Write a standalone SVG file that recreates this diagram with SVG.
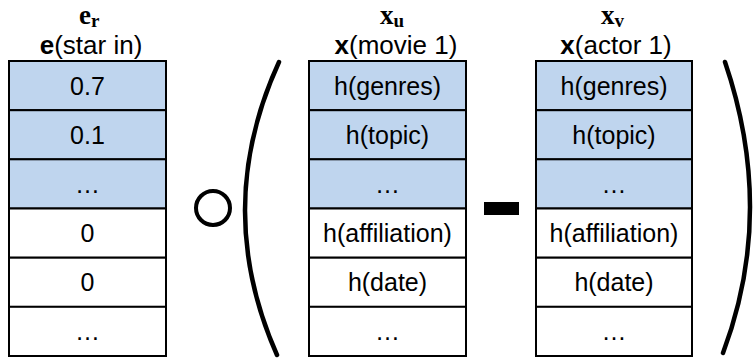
<svg xmlns="http://www.w3.org/2000/svg" width="754" height="364" viewBox="0 0 754 364">
<style>
.cell{stroke:#000;stroke-width:2}
.b{fill:#bfd5ee}
.w{fill:#fff}
.t{font-family:"Liberation Sans",Arial,sans-serif;font-size:25px;fill:#000;text-anchor:middle}
.h{font-family:"Liberation Sans",Arial,sans-serif;font-size:26px;fill:#000;text-anchor:middle}
.m{font-family:"Liberation Serif","Times New Roman",serif;font-weight:bold;font-size:27px;fill:#000}
.s{font-size:19px}
.op{fill:none;stroke:#000;stroke-width:4.5;stroke-linecap:round}
</style>
<rect width="754" height="364" fill="#fff"/>
<g id="er">
<text class="m" x="79" y="24">e<tspan class="s" dy="3">r</tspan></text>
<text class="h" x="91" y="54"><tspan font-weight="bold">e</tspan>(star in)</text>
<rect class="cell b" x="9" y="61" width="157" height="49.2"/>
<rect class="cell b" x="9" y="110.2" width="157" height="49.2"/>
<rect class="cell b" x="9" y="159.3" width="157" height="49.2"/>
<rect class="cell w" x="9" y="208.5" width="157" height="49.2"/>
<rect class="cell w" x="9" y="257.7" width="157" height="49.2"/>
<rect class="cell w" x="9" y="306.8" width="157" height="49.2"/>
<text class="t" x="87.5" y="94.5">0.7</text>
<text class="t" x="87.5" y="143.7">0.1</text>
<text class="t" x="87.5" y="192.9">…</text>
<text class="t" x="87.5" y="242">0</text>
<text class="t" x="87.5" y="291.2">0</text>
<text class="t" x="87.5" y="340.4">…</text>
</g>
<g id="xu">
<text class="m" x="380" y="24">x<tspan class="s" dy="3">u</tspan></text>
<text class="h" x="396" y="54"><tspan font-weight="bold">x</tspan>(movie 1)</text>
<rect class="cell b" x="309" y="61" width="157" height="49.2"/>
<rect class="cell b" x="309" y="110.2" width="157" height="49.2"/>
<rect class="cell b" x="309" y="159.3" width="157" height="49.2"/>
<rect class="cell w" x="309" y="208.5" width="157" height="49.2"/>
<rect class="cell w" x="309" y="257.7" width="157" height="49.2"/>
<rect class="cell w" x="309" y="306.8" width="157" height="49.2"/>
<text class="t" x="387.5" y="94.5">h(genres)</text>
<text class="t" x="387.5" y="143.7">h(topic)</text>
<text class="t" x="387.5" y="192.9">…</text>
<text class="t" x="387.5" y="242">h(affiliation)</text>
<text class="t" x="387.5" y="291.2">h(date)</text>
<text class="t" x="387.5" y="340.4">…</text>
</g>
<g id="xv">
<text class="m" x="601" y="24">x<tspan class="s" dy="3">v</tspan></text>
<text class="h" x="616" y="54"><tspan font-weight="bold">x</tspan>(actor 1)</text>
<rect class="cell b" x="536" y="61" width="156" height="49.2"/>
<rect class="cell b" x="536" y="110.2" width="156" height="49.2"/>
<rect class="cell b" x="536" y="159.3" width="156" height="49.2"/>
<rect class="cell w" x="536" y="208.5" width="156" height="49.2"/>
<rect class="cell w" x="536" y="257.7" width="156" height="49.2"/>
<rect class="cell w" x="536" y="306.8" width="156" height="49.2"/>
<text class="t" x="614" y="94.5">h(genres)</text>
<text class="t" x="614" y="143.7">h(topic)</text>
<text class="t" x="614" y="192.9">…</text>
<text class="t" x="614" y="242">h(affiliation)</text>
<text class="t" x="614" y="291.2">h(date)</text>
<text class="t" x="614" y="340.4">…</text>
</g>
<g id="operators">
<circle cx="213" cy="208" r="17" fill="none" stroke="#000" stroke-width="4"/>
<path class="op" d="M279 62 Q212 208 277 355"/>
<rect x="484" y="202" width="35" height="13" fill="#000"/>
<path class="op" d="M725 62 Q776 212 723 353"/>
</g>
<g id="connectors"/>
</svg>
